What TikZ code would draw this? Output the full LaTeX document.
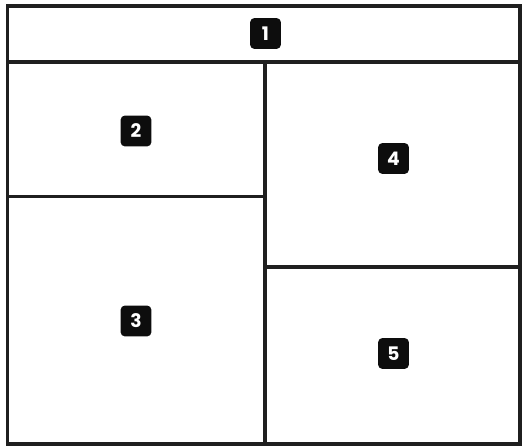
\documentclass[tikz,border=0pt]{standalone}
\usepackage{fontspec}
\newfontfamily\labelfont{Poppins}[UprightFont=* Bold]
\begin{document}
\begin{tikzpicture}[x=0.75pt,y=-0.75pt,
  frame/.style={line width=2.3pt,draw=black!88},
  tag/.style={fill=black!95,rounded corners=3pt,minimum width=23pt,minimum height=23pt,inner sep=0pt,
    text=white,font=\labelfont\fontsize{14}{14}\selectfont}]
\useasboundingbox (0,0) rectangle (522,448);
\draw[frame] (7.5,6) rectangle (520,444);
\coordinate (hl) at (7.5,62);
\coordinate (hr) at (520,62);
\coordinate (vt) at (265,62);
\coordinate (vb) at (265,444);
\coordinate (ll) at (7.5,196.5);
\coordinate (lr) at (265,196.5);
\coordinate (rl) at (265,267);
\coordinate (rr) at (520,267);
\draw[frame] (hl) -- (hr);
\draw[frame] (vt) -- (vb);
\draw[frame] (ll) -- (lr);
\draw[frame] (rl) -- (rr);
\node[tag] (n1) at (265.5,33.5) {1};
\node[tag] (n2) at (136,131) {2};
\node[tag] (n3) at (136,321) {3};
\node[tag] (n4) at (393.5,158.5) {4};
\node[tag] (n5) at (393.5,353.5) {5};
\end{tikzpicture}
\end{document}
